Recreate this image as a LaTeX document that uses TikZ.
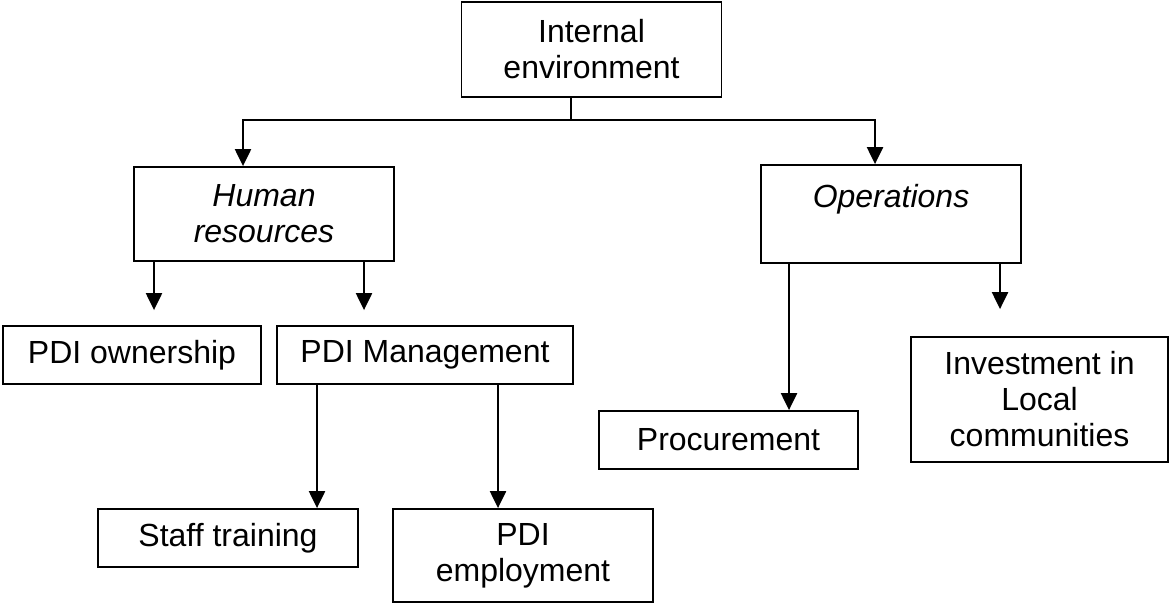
\documentclass[tikz,border=0pt]{standalone}
\usepackage{fontspec}
\setmainfont{Liberation Sans}
\usetikzlibrary{arrows.meta}

\begin{document}
\begin{tikzpicture}[
    x=0.5pt, y=-0.5pt,
    every node/.style={font=\fontsize{16}{18}\selectfont},
    box/.style={draw, line width=0.9pt, rectangle, minimum width=130pt, minimum height=29pt, inner sep=0pt, align=center},
    arr/.style={-{Triangle[length=8.5pt, width=8pt]}, line width=1.1pt}
]
\useasboundingbox (0,0) rectangle (1170,604);

% Top
\node[box, minimum height=47.5pt] (env) at (591.5, 49.5) {Internal\\environment};

% Second level
\node[box, minimum height=47pt] (hr)  at (264, 214) {\textit{Human}\\\textit{resources}};
\node[box, minimum height=49pt] (ops) at (891, 214) {\textit{Operations}\\\mbox{}};

% Human resources branch
\node[box, minimum width=129pt] (own)  at (132, 355) {PDI ownership};
\node[box, minimum width=148pt] (mgmt) at (425, 355) {PDI Management};
\node[box] (staff) at (228, 538) {Staff training};
\node[box, minimum height=46.5pt] (emp) at (523, 555.5) {PDI\\employment};

% Operations branch
\node[box, minimum width=129.5pt] (proc) at (728.5, 440) {Procurement};
\node[box, minimum width=128.5pt, minimum height=62.5pt] (inv) at (1039.5, 399.5) {Investment in\\Local\\communities};

% Split under the top box
\coordinate (split) at (571, 120);
\draw[line width=1.1pt] (env.south -| split) -- (split);
\draw[arr] (split) -| (hr.north -| 243,0);
\draw[arr] (split) -| (ops.north -| 875,0);

% Arrows down
\draw[arr, shorten >=7.5pt] (hr.south -| 154,0) -- (own.north -| 154,0);
\draw[arr, shorten >=7.5pt] (hr.south -| 364,0) -- (mgmt.north -| 364,0);
\draw[arr] (mgmt.south -| 317,0) -- (staff.north -| 317,0);
\draw[arr] (mgmt.south -| 498,0) -- (emp.north -| 498,0);
\draw[arr] (ops.south -| 789,0) -- (proc.north -| 789,0);
\draw[arr, shorten >=13.5pt] (ops.south -| 1000,0) -- (inv.north -| 1000,0);

\end{tikzpicture}
\end{document}
